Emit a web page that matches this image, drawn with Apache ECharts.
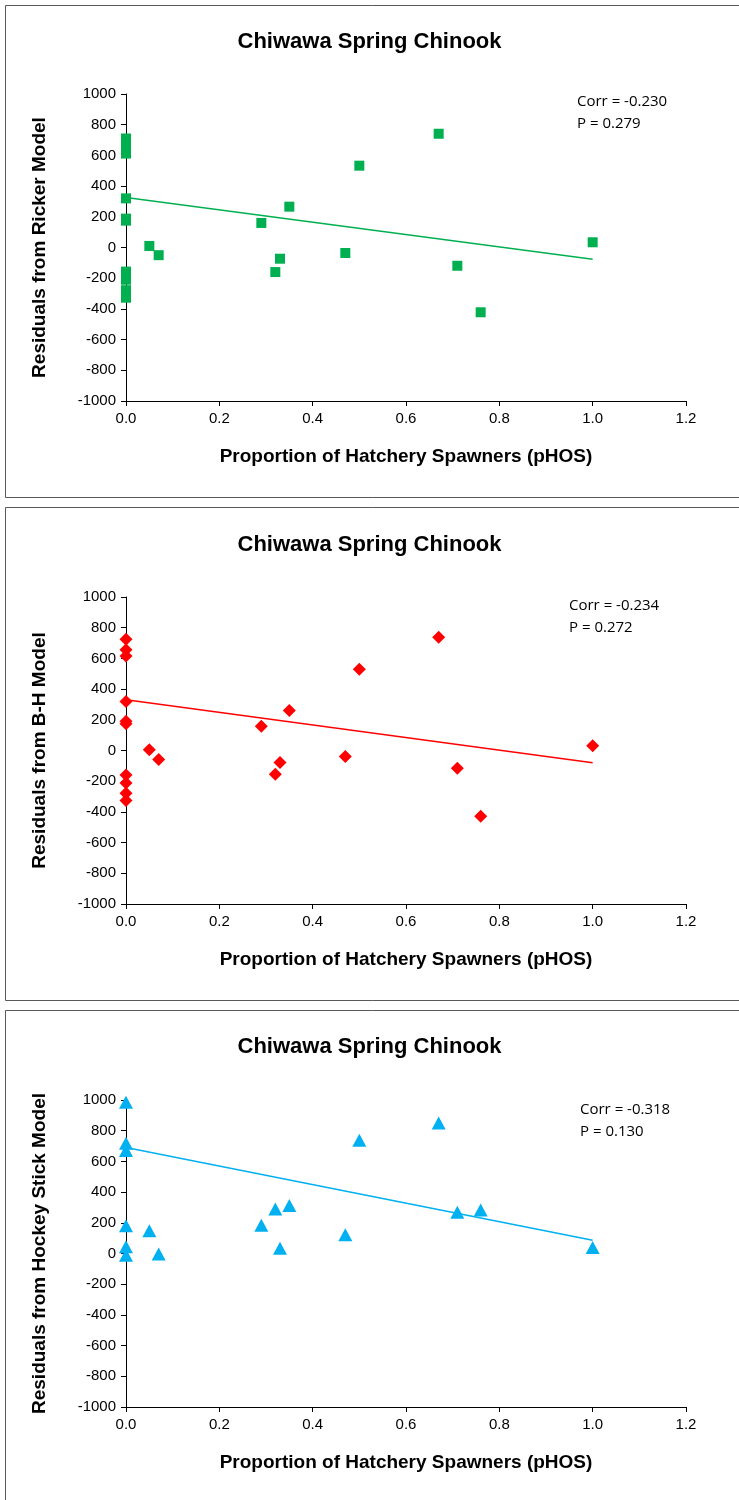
<!DOCTYPE html>
<html>
<head>
<meta charset="utf-8">
<script src="https://cdn.jsdelivr.net/npm/echarts@6/dist/echarts.min.js"></script>
<style>
html,body{margin:0;padding:0;background:#fff;}
#c{width:739px;height:1500px;}
</style>
</head>
<body>
<div id="c"></div>
<script>
// ---- data ----
var chartTitle = 'Chiwawa Spring Chinook';
var xAxisTitle = 'Proportion of Hatchery Spawners (pHOS)';
var yAxisTitles = ['Residuals from Ricker Model', 'Residuals from B-H Model', 'Residuals from Hockey Stick Model'];
var statTexts = [['Corr = -0.230', 'P = 0.279'], ['Corr = -0.234', 'P = 0.272'], ['Corr = -0.318', 'P = 0.130']];
var xTicks = [0, 0.2, 0.4, 0.6, 0.8, 1.0, 1.2];
var yTicks = [-1000, -800, -600, -400, -200, 0, 200, 400, 600, 800, 1000];

var rickerPoints = [
  [0, 710], [0, 655], [0, 612], [0, 320], [0, 188], [0, 175],
  [0, -157], [0, -210], [0, -278], [0, -327],
  [0.05, 10], [0.07, -50], [0.29, 160], [0.32, -160], [0.33, -73], [0.35, 266],
  [0.47, -36], [0.50, 533], [0.67, 741], [0.71, -119], [0.76, -422], [1.00, 34]
];
var rickerTrend = [[0, 326], [1.0, -76]];

var bhPoints = [
  [0, 724], [0, 657], [0, 615], [0, 320], [0, 191], [0, 174],
  [0, -159], [0, -211], [0, -278], [0, -326],
  [0.05, 5], [0.07, -59], [0.29, 158], [0.32, -155], [0.33, -78], [0.35, 261],
  [0.47, -39], [0.50, 530], [0.67, 737], [0.71, -115], [0.76, -428], [1.00, 31]
];
var bhTrend = [[0, 330], [1.0, -80]];

var hockeyPoints = [
  [0, 985], [0, 718], [0, 671], [0, 181], [0, 44], [0, -12],
  [0.05, 148], [0.07, -4], [0.29, 184], [0.32, 290], [0.33, 35], [0.35, 312],
  [0.47, 122], [0.50, 737], [0.67, 850], [0.71, 268], [0.76, 284], [1.00, 39]
];
var hockeyTrend = [[0, 690], [1.0, 86]];

var panels = [
  {pts: rickerPoints, trend: rickerTrend, color: '#00B050', symbol: 'rect', size: [10, 10]},
  {pts: bhPoints, trend: bhTrend, color: '#FF0000', symbol: 'diamond', size: [13, 13]},
  {pts: hockeyPoints, trend: hockeyTrend, color: '#00B0F0', symbol: 'triangle', size: [14, 13]}
];

// ---- layout ----
var panelTop = [5.5, 507.5, 1010.5];
var panelH = [492, 493, 500];
var gridTop = [94, 597, 1100];
var gridH = 307;
var titleTop = [26, 529, 1031];
var statPos = [[577, 91], [569, 595], [580, 1099]];

var font = "'Liberation Sans', Arial, sans-serif";
var option = {
  animation: false,
  backgroundColor: '#fff',
  title: [], grid: [], xAxis: [], yAxis: [], series: [], graphic: []
};

panels.forEach(function (p, i) {
  option.title.push({
    text: chartTitle, left: 'center', top: titleTop[i],
    textStyle: {fontFamily: font, fontSize: 22, fontWeight: 'bold', color: '#000'}
  });
  option.grid.push({left: 126, right: 53, top: gridTop[i], height: gridH});
  option.xAxis.push({
    type: 'value', gridIndex: i, min: xTicks[0], max: xTicks[xTicks.length - 1], interval: 0.2,
    name: xAxisTitle, nameLocation: 'middle', nameGap: 46,
    nameTextStyle: {fontFamily: font, fontSize: 19, fontWeight: 'bold', color: '#000'},
    axisLine: {onZero: false, lineStyle: {color: '#000', width: 1}},
    axisTick: {show: true, inside: false, length: 5, lineStyle: {color: '#000'}},
    axisLabel: {fontFamily: font, fontSize: 15, color: '#000', margin: 10,
      formatter: function (v) { return v.toFixed(1); }},
    splitLine: {show: false}
  });
  option.yAxis.push({
    type: 'value', gridIndex: i, min: yTicks[0], max: yTicks[yTicks.length - 1], interval: 200,
    name: yAxisTitles[i], nameLocation: 'middle', nameGap: 77,
    nameTextStyle: {fontFamily: font, fontSize: 19, fontWeight: 'bold', color: '#000'},
    axisLine: {show: true, onZero: false, lineStyle: {color: '#000', width: 1}},
    axisTick: {show: true, inside: false, length: 5, lineStyle: {color: '#000'}},
    axisLabel: {fontFamily: font, fontSize: 15, color: '#000', margin: 10,
      formatter: function (v) { return String(v); }},
    splitLine: {show: false}
  });
  option.series.push({
    type: 'line', xAxisIndex: i, yAxisIndex: i, data: p.trend, symbol: 'none',
    lineStyle: {color: p.color, width: 1.5}, silent: true, z: 2
  });
  option.series.push({
    type: 'scatter', xAxisIndex: i, yAxisIndex: i, data: p.pts,
    symbol: p.symbol, symbolSize: p.size, itemStyle: {color: p.color, opacity: 1}, z: 3
  });
  option.graphic.push({
    type: 'rect', shape: {x: 5.5, y: panelTop[i], width: 740, height: panelH[i]},
    style: {fill: 'none', stroke: '#595959', lineWidth: 1}, silent: true, z: -1
  });
  option.graphic.push({
    type: 'text', left: statPos[i][0], top: statPos[i][1],
    style: {text: statTexts[i][0] + '\n' + statTexts[i][1], fontFamily: "'Open Sans', 'Liberation Sans', sans-serif",
      fontSize: 15, lineHeight: 22, fill: '#000'}
  });
});

var chart = echarts.init(document.getElementById('c'), null, {renderer: 'canvas'});
chart.setOption(option);
</script>
</body>
</html>
